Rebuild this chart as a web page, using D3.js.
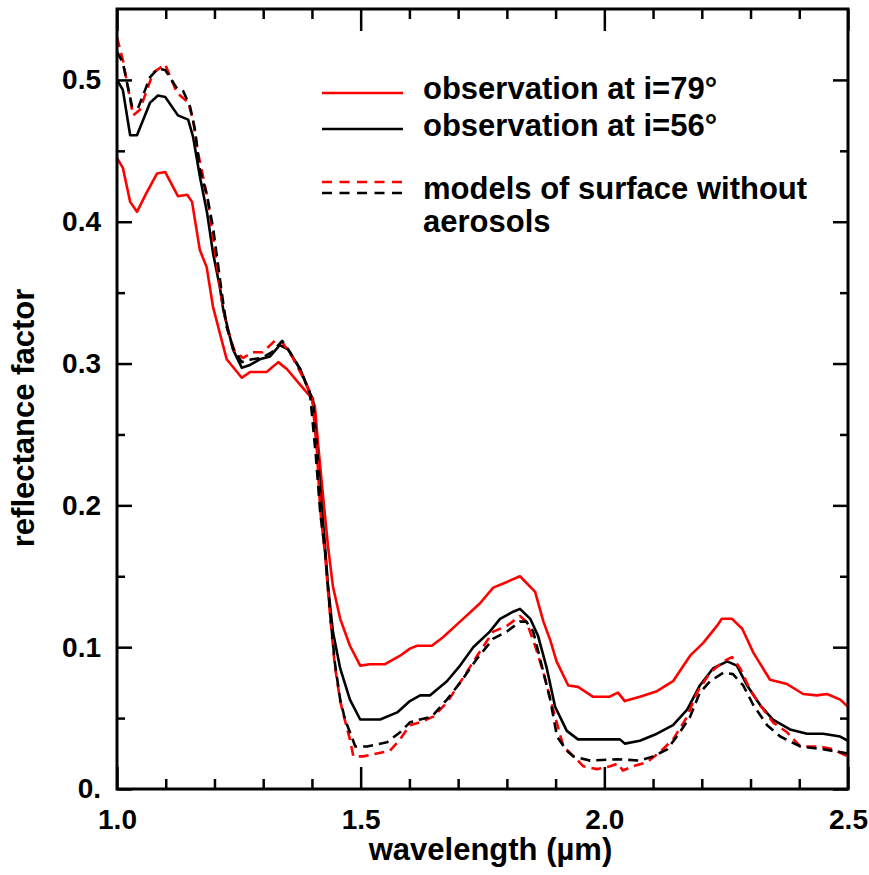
<!DOCTYPE html>
<html>
<head>
<meta charset="utf-8">
<script src="https://cdn.jsdelivr.net/npm/d3@7"></script>
<style>
  html, body { margin: 0; padding: 0; background: #fff; }
  svg { display: block; }
  text { font-family: "Liberation Sans", Arial, sans-serif; font-weight: bold; fill: #000; }
</style>
</head>
<body>
<svg id="chart" width="869" height="875"></svg>
<script>
// ---- data (wavelength µm, reflectance factor) ----
const obs79 = [[1.000,0.445],[1.012,0.438],[1.027,0.414],[1.041,0.407],[1.060,0.420],[1.082,0.434],[1.099,0.435],[1.125,0.418],[1.144,0.419],[1.154,0.414],[1.170,0.380],[1.184,0.368],[1.197,0.340],[1.225,0.303],[1.256,0.290],[1.273,0.294],[1.293,0.294],[1.307,0.294],[1.331,0.301],[1.349,0.296],[1.376,0.285],[1.396,0.277],[1.406,0.270],[1.413,0.242],[1.423,0.206],[1.433,0.171],[1.443,0.143],[1.458,0.120],[1.478,0.101],[1.499,0.087],[1.519,0.088],[1.550,0.088],[1.581,0.094],[1.601,0.099],[1.616,0.101],[1.646,0.101],[1.669,0.107],[1.704,0.118],[1.745,0.131],[1.772,0.142],[1.800,0.146],[1.827,0.150],[1.858,0.139],[1.875,0.118],[1.889,0.105],[1.902,0.090],[1.926,0.073],[1.946,0.072],[1.977,0.065],[2.010,0.065],[2.028,0.068],[2.042,0.062],[2.073,0.065],[2.108,0.069],[2.141,0.076],[2.176,0.094],[2.203,0.103],[2.231,0.115],[2.241,0.120],[2.262,0.120],[2.283,0.113],[2.306,0.096],[2.340,0.077],[2.375,0.074],[2.408,0.067],[2.436,0.066],[2.457,0.067],[2.484,0.063],[2.500,0.058]];
const obs56 = [[1.000,0.500],[1.012,0.493],[1.027,0.461],[1.041,0.461],[1.068,0.484],[1.084,0.489],[1.099,0.488],[1.125,0.475],[1.146,0.472],[1.156,0.460],[1.170,0.432],[1.185,0.406],[1.197,0.378],[1.211,0.354],[1.218,0.338],[1.238,0.310],[1.256,0.297],[1.273,0.299],[1.293,0.303],[1.314,0.305],[1.334,0.313],[1.351,0.310],[1.376,0.296],[1.396,0.279],[1.402,0.275],[1.413,0.230],[1.420,0.199],[1.427,0.171],[1.433,0.143],[1.443,0.111],[1.458,0.085],[1.478,0.063],[1.499,0.049],[1.540,0.049],[1.575,0.054],[1.601,0.062],[1.622,0.066],[1.642,0.066],[1.677,0.076],[1.704,0.087],[1.731,0.100],[1.765,0.111],[1.786,0.120],[1.813,0.125],[1.827,0.127],[1.848,0.120],[1.864,0.108],[1.882,0.085],[1.899,0.058],[1.923,0.041],[1.946,0.035],[1.964,0.035],[2.032,0.035],[2.042,0.032],[2.073,0.034],[2.108,0.039],[2.141,0.045],[2.170,0.056],[2.196,0.073],[2.223,0.085],[2.252,0.090],[2.272,0.087],[2.293,0.073],[2.320,0.059],[2.346,0.049],[2.381,0.042],[2.416,0.039],[2.449,0.039],[2.484,0.037],[2.500,0.034]];
const model79 = [[1.000,0.530],[1.012,0.514],[1.033,0.475],[1.047,0.479],[1.074,0.505],[1.099,0.511],[1.123,0.491],[1.146,0.484],[1.156,0.472],[1.166,0.449],[1.185,0.418],[1.197,0.389],[1.215,0.345],[1.225,0.326],[1.242,0.308],[1.259,0.304],[1.279,0.308],[1.299,0.308],[1.324,0.316],[1.339,0.315],[1.359,0.305],[1.382,0.290],[1.400,0.277],[1.410,0.240],[1.417,0.197],[1.427,0.165],[1.437,0.123],[1.447,0.087],[1.458,0.062],[1.468,0.048],[1.478,0.035],[1.485,0.023],[1.505,0.023],[1.533,0.025],[1.560,0.027],[1.581,0.035],[1.601,0.045],[1.622,0.047],[1.649,0.051],[1.677,0.061],[1.704,0.075],[1.739,0.094],[1.772,0.111],[1.800,0.115],[1.827,0.122],[1.840,0.118],[1.858,0.101],[1.875,0.082],[1.895,0.056],[1.916,0.030],[1.943,0.021],[1.957,0.016],[1.985,0.014],[2.012,0.016],[2.028,0.018],[2.038,0.013],[2.059,0.016],[2.088,0.019],[2.114,0.026],[2.141,0.035],[2.170,0.051],[2.190,0.068],[2.217,0.082],[2.244,0.090],[2.262,0.093],[2.279,0.085],[2.299,0.070],[2.320,0.059],[2.346,0.047],[2.375,0.040],[2.402,0.030],[2.443,0.030],[2.469,0.028],[2.500,0.023]];
const model56 = [[1.000,0.520],[1.012,0.512],[1.031,0.481],[1.043,0.480],[1.068,0.502],[1.084,0.508],[1.099,0.507],[1.123,0.494],[1.136,0.492],[1.150,0.481],[1.160,0.465],[1.170,0.437],[1.185,0.418],[1.197,0.396],[1.215,0.350],[1.225,0.326],[1.238,0.311],[1.256,0.301],[1.277,0.303],[1.297,0.304],[1.318,0.308],[1.339,0.316],[1.355,0.308],[1.376,0.296],[1.396,0.279],[1.408,0.235],[1.417,0.195],[1.427,0.167],[1.437,0.125],[1.447,0.089],[1.458,0.063],[1.468,0.049],[1.478,0.040],[1.489,0.030],[1.513,0.030],[1.554,0.033],[1.581,0.040],[1.601,0.047],[1.622,0.049],[1.646,0.051],[1.677,0.063],[1.704,0.075],[1.739,0.092],[1.772,0.106],[1.800,0.111],[1.827,0.118],[1.840,0.118],[1.854,0.111],[1.868,0.092],[1.889,0.063],[1.903,0.037],[1.923,0.027],[1.936,0.023],[1.971,0.020],[2.026,0.021],[2.073,0.020],[2.100,0.023],[2.129,0.028],[2.155,0.040],[2.176,0.051],[2.196,0.068],[2.217,0.076],[2.244,0.082],[2.264,0.081],[2.285,0.073],[2.306,0.059],[2.334,0.045],[2.361,0.037],[2.402,0.030],[2.449,0.028],[2.484,0.026],[2.500,0.025]];

const xMajorTicks = [1.0, 1.5, 2.0, 2.5];
const xMinorTicks = [1.1, 1.2, 1.3, 1.4, 1.6, 1.7, 1.8, 1.9, 2.1, 2.2, 2.3, 2.4];
const yMajorTicks = [0, 0.1, 0.2, 0.3, 0.4, 0.5];
const yMinorTicks = [0.05, 0.15, 0.25, 0.35, 0.45];
const yTickLabels = ["0.", "0.1", "0.2", "0.3", "0.4", "0.5"];

const legendItems = ["observation at i=79°", "observation at i=56°"];
const legendModel = ["models of surface without", "aerosols"];

// ---- layout ----
const svg = d3.select("#chart");
const L = 117, R = 848, T = 9, B = 789;

const x = d3.scaleLinear().domain([1.0, 2.5]).range([L, R]);
const y = d3.scaleLinear().domain([0, 0.55]).range([B, T]);

const line = d3.line().x(d => x(d[0])).y(d => y(d[1]));

const plot = svg.append("g");
plot.append("defs").append("clipPath").attr("id", "clip")
  .append("rect").attr("x", L).attr("y", T).attr("width", R - L).attr("height", B - T);

const series = [
  { data: obs79, color: "#ff0000", dash: null },
  { data: obs56, color: "#000000", dash: null },
  { data: model79, color: "#ff0000", dash: "10,6" },
  { data: model56, color: "#000000", dash: "10,6" }
];
const lines = plot.append("g").attr("clip-path", "url(#clip)");
series.forEach(s => {
  lines.append("path").datum(s.data)
    .attr("d", line)
    .attr("fill", "none")
    .attr("stroke", s.color)
    .attr("stroke-width", 2.6)
    .attr("stroke-linejoin", "round")
    .attr("stroke-dasharray", s.dash);
});

// ---- axes (ticks inward) ----
function styleAxis(g) {
  g.select(".domain").remove();
  g.selectAll(".tick line").attr("stroke", "#000").attr("stroke-width", 2.5);
}
const fontSize = 28;
function styleText(g) {
  g.selectAll("text").attr("font-size", fontSize)
    .attr("font-family", "Liberation Sans, Arial, sans-serif")
    .attr("font-weight", "bold").attr("fill", "#000");
}

// bottom
svg.append("g").attr("transform", `translate(0,${B})`)
  .call(d3.axisBottom(x).tickValues(xMajorTicks).tickSizeInner(-22).tickSizeOuter(0).tickPadding(20)
    .tickFormat(d3.format(".1f")))
  .call(styleAxis).call(styleText);
svg.append("g").attr("transform", `translate(0,${B})`)
  .call(d3.axisBottom(x).tickValues(xMinorTicks).tickSizeInner(-10).tickSizeOuter(0).tickFormat(""))
  .call(styleAxis);
// top
svg.append("g").attr("transform", `translate(0,${T})`)
  .call(d3.axisTop(x).tickValues(xMajorTicks).tickSizeInner(-22).tickSizeOuter(0).tickFormat(""))
  .call(styleAxis);
svg.append("g").attr("transform", `translate(0,${T})`)
  .call(d3.axisTop(x).tickValues(xMinorTicks).tickSizeInner(-10).tickSizeOuter(0).tickFormat(""))
  .call(styleAxis);
// left
svg.append("g").attr("transform", `translate(${L},0)`)
  .call(d3.axisLeft(y).tickValues(yMajorTicks).tickSizeInner(-15).tickSizeOuter(0).tickPadding(16)
    .tickFormat((d, i) => yTickLabels[i]))
  .call(styleAxis).call(styleText);
svg.append("g").attr("transform", `translate(${L},0)`)
  .call(d3.axisLeft(y).tickValues(yMinorTicks).tickSizeInner(-8).tickSizeOuter(0).tickFormat(""))
  .call(styleAxis);
// right
svg.append("g").attr("transform", `translate(${R},0)`)
  .call(d3.axisRight(y).tickValues(yMajorTicks).tickSizeInner(-15).tickSizeOuter(0).tickFormat(""))
  .call(styleAxis);
svg.append("g").attr("transform", `translate(${R},0)`)
  .call(d3.axisRight(y).tickValues(yMinorTicks).tickSizeInner(-8).tickSizeOuter(0).tickFormat(""))
  .call(styleAxis);

// frame
svg.append("rect").attr("x", L).attr("y", T).attr("width", R - L).attr("height", B - T)
  .attr("fill", "none").attr("stroke", "#000").attr("stroke-width", 3);

// axis titles
svg.append("text").attr("x", (L + R) / 2 + 8).attr("y", 860)
  .attr("text-anchor", "middle").attr("font-size", 31).text("wavelength (µm)");
svg.append("text").attr("transform", "translate(34,418) rotate(-90)")
  .attr("text-anchor", "middle").attr("font-size", 31).text("reflectance factor");

// legend
const lg = svg.append("g");
const lx0 = 322, lx1 = 403, tx = 423, lfs = 31;
lg.append("line").attr("x1", lx0).attr("x2", lx1).attr("y1", 93).attr("y2", 93)
  .attr("stroke", "#ff0000").attr("stroke-width", 2.6);
lg.append("line").attr("x1", lx0).attr("x2", lx1).attr("y1", 129).attr("y2", 129)
  .attr("stroke", "#000").attr("stroke-width", 2.6);
lg.append("line").attr("x1", lx0).attr("x2", lx1).attr("y1", 182).attr("y2", 182)
  .attr("stroke", "#ff0000").attr("stroke-width", 2.6).attr("stroke-dasharray", "10,7.5");
lg.append("line").attr("x1", lx0).attr("x2", lx1).attr("y1", 193).attr("y2", 193)
  .attr("stroke", "#000").attr("stroke-width", 2.6).attr("stroke-dasharray", "10,7.5");
lg.append("text").attr("x", tx).attr("y", 99).attr("font-size", lfs).text(legendItems[0]);
lg.append("text").attr("x", tx).attr("y", 136).attr("font-size", lfs).text(legendItems[1]);
lg.append("text").attr("x", tx).attr("y", 199).attr("font-size", lfs).text(legendModel[0]);
lg.append("text").attr("x", tx).attr("y", 232).attr("font-size", lfs).text(legendModel[1]);
</script>
</body>
</html>
